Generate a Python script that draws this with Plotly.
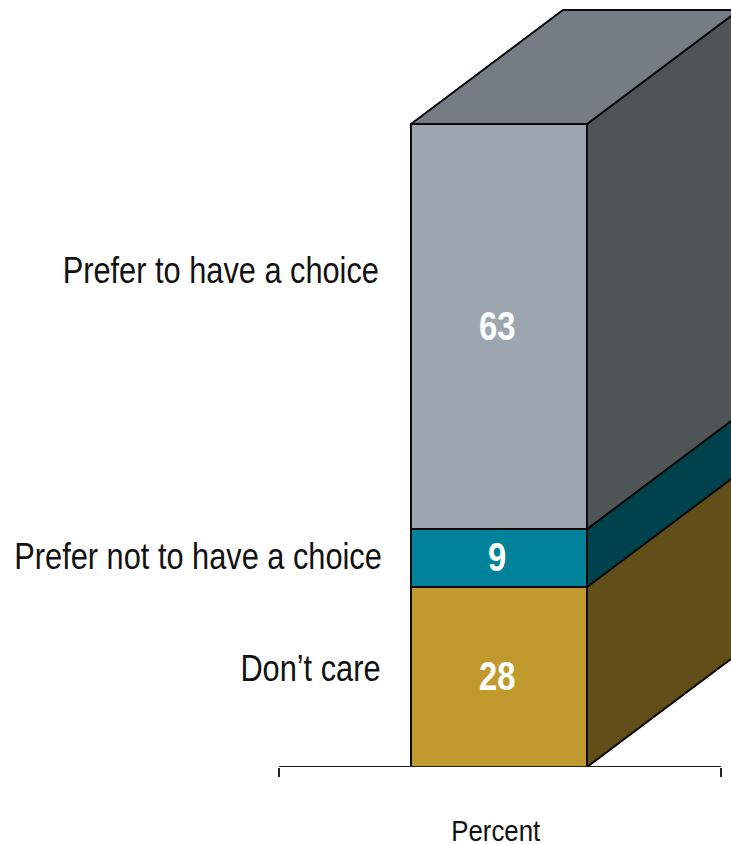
import plotly.graph_objects as go

categories = ["Don\u2019t care", "Prefer not to have a choice", "Prefer to have a choice"]
values = [28, 9, 63]
front_colors = ["#C09A2C", "#00839A", "#9BA6B1"]
side_colors = ["#624E18", "#01434C", "#505558"]
top_color = "#757C84"
axis_title = "Percent"

W, H = 731, 844
BASE_PX, PX_PER_PCT = 767, 6.43
AX_L, AX_R = 279, 721
UNIT = AX_R - AX_L
FONT = "Liberation Sans, Arial, sans-serif"

bar_center = (499 - AX_L) / UNIT
bar_width = 176 / UNIT
dx, dy = 152 / UNIT, 114 / PX_PER_PCT
left, right = bar_center - bar_width / 2, bar_center + bar_width / 2
EDGE = dict(color="#0a0a0a", width=2)

fig = go.Figure()

# front faces
for cat, val, col in zip(categories, values, front_colors):
    fig.add_trace(go.Bar(x=[bar_center], y=[val], width=[bar_width], name=cat,
                         marker=dict(color=col, line=EDGE),
                         hovertemplate=cat + ": %{y}<extra></extra>", showlegend=False))

# axis rule
fig.add_trace(go.Scatter(x=[0, 1], y=[0, 0], mode="lines", line=dict(color="#222222", width=1.8),
                         hoverinfo="skip", showlegend=False))

# side faces
annotations = []
cum = 0
for val, col in zip(values, side_colors):
    low, high = cum, cum + val
    fig.add_trace(go.Scatter(x=[right, right + dx, right + dx, right, right],
                             y=[low, low + dy, high + dy, high, low],
                             mode="lines", fill="toself", fillcolor=col, line=EDGE,
                             hoverinfo="skip", showlegend=False))
    annotations.append(dict(text=str(val), x=bar_center, y=(low + high) / 2, xshift=-2, yshift=1,
                            xref="x", yref="y", xanchor="center", yanchor="middle",
                            showarrow=False,
                            font=dict(family=FONT, size=40, color="white", weight="bold")))
    cum = high

# top face
fig.add_trace(go.Scatter(x=[left, left + dx, right + dx, right, left],
                         y=[cum, cum + dy, cum + dy, cum, cum],
                         mode="lines", fill="toself", fillcolor=top_color, line=EDGE,
                         hoverinfo="skip", showlegend=False))

label_pos = {categories[2]: (221, 270), categories[1]: (198, 556), categories[0]: (310.5, 668)}
annotations += [dict(text=c, x=p[0] / W, y=1 - p[1] / H, xref="paper", yref="paper",
                     xanchor="center", yanchor="middle", showarrow=False,
                     font=dict(family=FONT, size=37.5, color="#111111"))
                for c, p in label_pos.items()]
annotations.append(dict(text=axis_title, x=495.5 / W, y=1 - 830 / H, xref="paper", yref="paper",
                        xanchor="center", yanchor="middle", showarrow=False,
                        font=dict(family=FONT, size=30, color="#111111")))

fig.update_layout(
    width=W, height=H, margin=dict(l=0, r=0, t=0, b=0),
    paper_bgcolor="white", plot_bgcolor="white", barmode="stack", showlegend=False,
    annotations=annotations,
    xaxis=dict(range=[-AX_L / UNIT, (W - AX_L) / UNIT], domain=[0, 1], tickmode="array",
               tickvals=[0, 1], ticktext=["", ""], ticks="outside", ticklen=9, tickwidth=1.8,
               tickcolor="#222222", showgrid=False, zeroline=False, showline=False),
    yaxis=dict(range=[0, BASE_PX / PX_PER_PCT], domain=[1 - BASE_PX / H, 1], showticklabels=False,
               ticks="", showgrid=False, zeroline=False, showline=False),
)

# Narrow the glyphs: no condensed sans is installed, so fit real text to a narrower width.
post = """
document.body.style.margin='0';
function narrow(){
  document.querySelectorAll('.annotation-text').forEach(function(t){
    if(t.getAttribute('textLength')) return;
    var r = t.textContent==='Percent' ? 0.86 : 0.82;
    t.setAttribute('textLength', t.getComputedTextLength()*r);
    t.setAttribute('lengthAdjust','spacingAndGlyphs');
  });
}
var gd=document.getElementById('{plot_id}');
narrow(); setTimeout(narrow,50); setTimeout(narrow,300);
if(gd.on) gd.on('plotly_afterplot',narrow);
"""
fig.write_html("out.html", config={"displayModeBar": False}, post_script=post)
